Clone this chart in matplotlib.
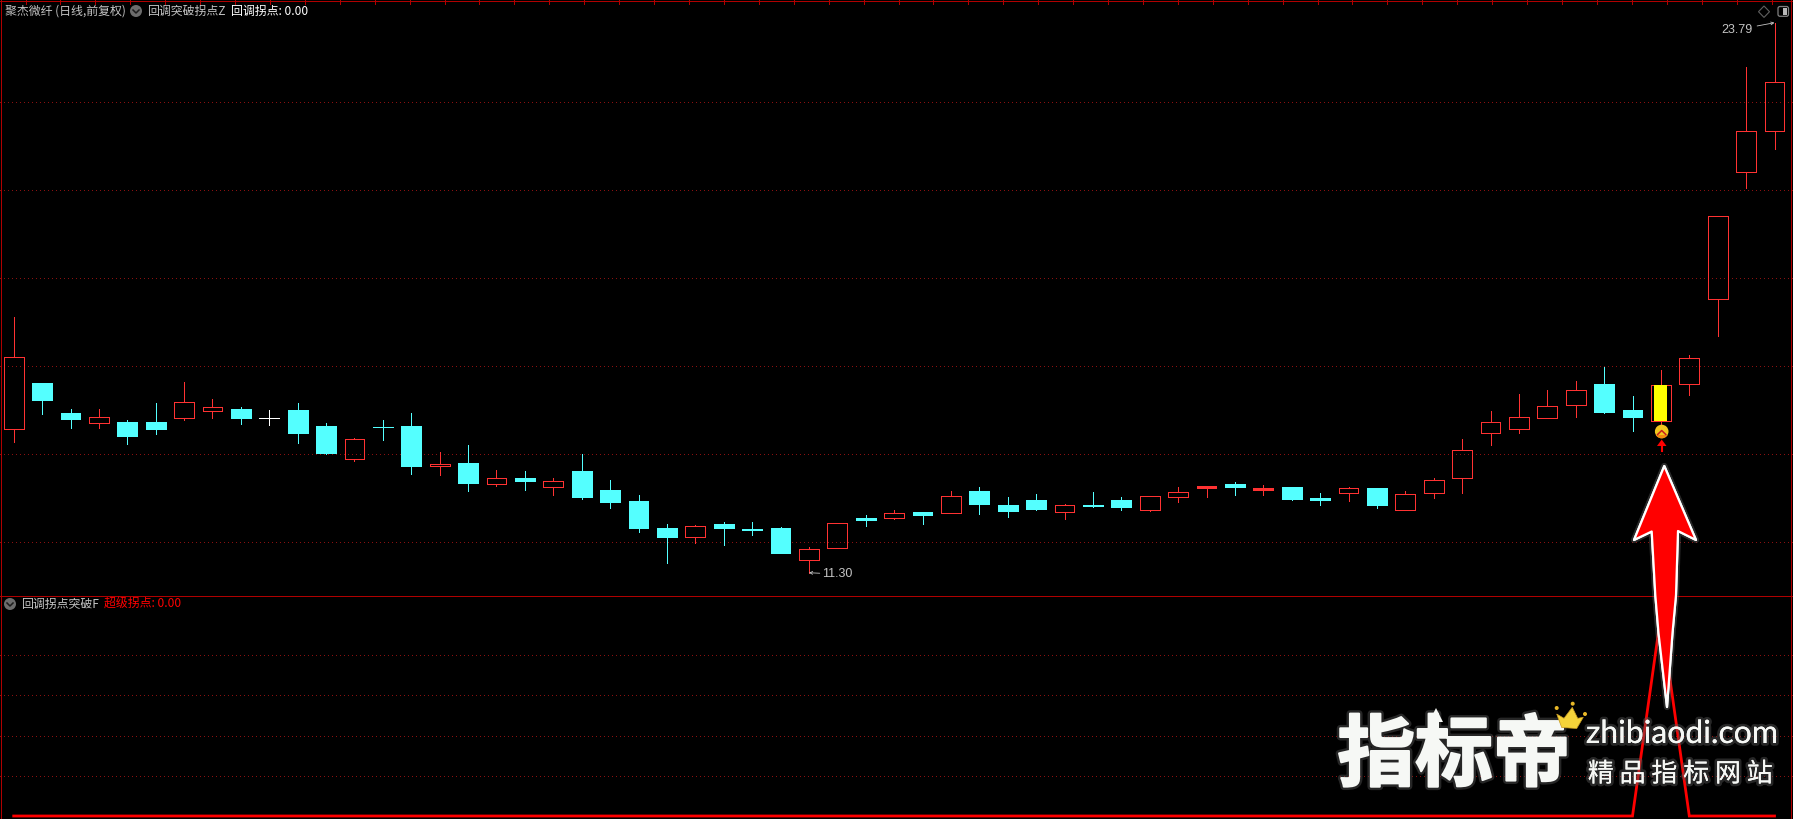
import numpy as np
import matplotlib
matplotlib.use("Agg")
import matplotlib.pyplot as plt
import matplotlib.patheffects as pe
from matplotlib.patches import Circle, Polygon, FancyBboxPatch, Rectangle

plt.rcParams['font.family'] = ['Noto Sans CJK SC', 'DejaVu Sans']
plt.rcParams['lines.scale_dashes'] = False

# 日线数据
opens = [14.57, 15.61, 14.93, 14.71, 14.72, 14.72, 14.82, 14.98, 15.02, 14.81,
         15.00, 14.63, 13.89, 14.61, 14.63, 13.73, 13.79, 13.32, 13.45, 13.25,
         13.61, 13.18, 12.93, 12.32, 12.10, 12.41, 12.29, 12.32, 11.60, 11.85,
         12.54, 12.55, 12.68, 12.66, 13.16, 12.84, 12.95, 12.69, 12.83, 12.95,
         12.73, 13.03, 13.23, 13.32, 13.18, 13.25, 13.00, 13.10, 13.22, 12.73,
         13.12, 13.44, 14.48, 14.57, 14.82, 15.12, 15.59, 15.00, 14.75, 15.59,
         17.51, 20.39, 21.32]
closes = [16.19, 15.22, 14.79, 14.83, 14.40, 14.56, 15.17, 15.06, 14.81, 14.81,
          14.47, 14.02, 14.33, 14.60, 13.72, 13.78, 13.34, 13.44, 13.38, 13.38,
          13.02, 12.91, 12.32, 12.11, 12.35, 12.32, 12.28, 11.75, 11.83, 12.44,
          12.50, 12.65, 12.61, 13.04, 12.86, 12.70, 12.75, 12.83, 12.82, 12.79,
          13.04, 13.13, 13.27, 13.25, 13.22, 12.97, 12.95, 13.22, 12.84, 13.08,
          13.40, 14.08, 14.72, 14.83, 15.08, 15.44, 14.95, 14.84, 15.56, 16.17,
          19.39, 21.32, 22.44]
highs = [17.11, 15.61, 15.02, 15.02, 14.77, 15.15, 15.63, 15.25, 15.06, 15.00,
         15.15, 14.70, 14.36, 14.77, 14.93, 14.04, 14.20, 13.63, 13.61, 13.45,
         14.00, 13.41, 13.07, 12.41, 12.38, 12.45, 12.45, 12.34, 11.88, 12.44,
         12.61, 12.72, 12.68, 13.16, 13.25, 13.02, 13.09, 12.86, 13.13, 13.02,
         13.04, 13.25, 13.27, 13.36, 13.29, 13.25, 13.11, 13.25, 13.22, 13.16,
         13.45, 14.34, 14.97, 15.36, 15.45, 15.65, 15.97, 15.31, 15.90, 16.24,
         19.39, 22.78, 23.79]
lows = [14.27, 14.90, 14.59, 14.59, 14.22, 14.45, 14.77, 14.81, 14.68, 14.65,
        14.25, 14.00, 13.84, 14.31, 13.54, 13.52, 13.16, 13.27, 13.18, 13.07,
        12.97, 12.77, 12.23, 11.52, 11.98, 11.93, 12.16, 11.75, 11.30, 11.85,
        12.36, 12.52, 12.41, 12.66, 12.63, 12.57, 12.72, 12.52, 12.79, 12.72,
        12.70, 12.91, 13.03, 13.07, 13.07, 12.95, 12.84, 12.93, 12.77, 12.73,
        13.00, 13.11, 14.20, 14.47, 14.82, 14.84, 14.93, 14.52, 14.68, 15.34,
        16.68, 20.04, 20.93]
signal_day = 58
low_day = 28
high_day = 62
solid_days = [42, 44]  # 实体太薄, 看起来是实心
price_grid = [12, 14, 16, 18, 20, 22]

# 超级拐点
super_pivot = [0] * 63
super_pivot[signal_day] = 1
pivot_grid = [0.2, 0.4, 0.6, 0.8]

RED = '#ff3232'
CYAN = '#54ffff'
BORDER = '#b00000'
GRID = '#8a1010'
GREY = '#c4c4c4'
PX = 0.72  # 1像素的线宽

W, H = 1793, 819
SPLIT = 595
n = len(opens)
days = np.arange(n)
xlim = (-13.7 / 28.4, (W - 13.7) / 28.4)

fig = plt.figure(figsize=(W / 100, H / 100), dpi=100, facecolor='black')

# 主图
ax = fig.add_axes([0, 1 - SPLIT / H, 1, SPLIT / H], facecolor='black')
ax.set_xlim(xlim)
ax.set_ylim(10.794, 24.306)
ax.axis('off')
for g in price_grid:
    ax.axhline(g, color=GRID, lw=PX, dashes=(0.72, 2.88), antialiased=False, zorder=1)

o = np.array(opens)
c = np.array(closes)
hi = np.array(highs)
lo = np.array(lows)
top = np.maximum(o, c)
bot = np.minimum(o, c)
up = c > o
down = c < o
flat = c == o

for mask, col in [(up, RED), (down, CYAN), (flat, 'white')]:
    ax.vlines(days[mask], top[mask], hi[mask], color=col, lw=PX, antialiased=False, zorder=2)
    ax.vlines(days[mask], lo[mask], bot[mask], color=col, lw=PX, antialiased=False, zorder=2)
ax.bar(days[up], (top - bot)[up], bottom=bot[up], width=0.7, facecolor='none', edgecolor=RED,
       linewidth=PX, antialiased=False, zorder=3)
ax.bar(solid_days, (top - bot)[solid_days], bottom=bot[solid_days], width=0.7, facecolor=RED, edgecolor=RED,
       linewidth=PX, antialiased=False, zorder=3)
ax.bar(days[down], (top - bot)[down], bottom=bot[down], width=0.7, facecolor=CYAN, edgecolor=CYAN,
       linewidth=PX, antialiased=False, zorder=3)
ax.hlines(top[flat], days[flat] - 0.35, days[flat] + 0.35, color='white', lw=PX, antialiased=False, zorder=3)

# 信号K线
ax.bar(signal_day, top[signal_day] - bot[signal_day], bottom=bot[signal_day], width=0.46,
       facecolor='#ffff00', edgecolor='none', zorder=4)

ax.annotate('%.2f' % lows[low_day], xy=(low_day, lows[low_day]), xytext=(9.8, -1), textcoords='offset points',
            color=GREY, fontsize=9, va='center', ha='left', family=['Liberation Sans', 'DejaVu Sans'],
            arrowprops=dict(arrowstyle='->', color=GREY, lw=0.6, mutation_scale=5, shrinkA=0, shrinkB=0))
ax.annotate('%.2f' % highs[high_day], xy=(high_day, highs[high_day]), xytext=(-15.5, -5), textcoords='offset points',
            color=GREY, fontsize=9, va='center', ha='right', family=['Liberation Sans', 'DejaVu Sans'],
            arrowprops=dict(arrowstyle='->', color=GREY, lw=0.6, mutation_scale=5, shrinkA=1, shrinkB=0))

# 副图
ax2 = fig.add_axes([0, 0, 1, (H - SPLIT) / H], facecolor='black')
ax2.set_xlim(xlim)
ax2.set_ylim(-3 / 201, 221 / 201)
ax2.axis('off')
for g in pivot_grid:
    ax2.axhline(g, color=GRID, lw=PX, dashes=(0.72, 2.88), antialiased=False, zorder=1)
ax2.plot(days, super_pivot, color='#ff0000', lw=2.0, solid_joinstyle='miter', clip_on=False, zorder=2)

# 边框, 标题, 水印
ov = fig.add_axes([0, 0, 1, 1], facecolor='none')
ov.set_xlim(0, W)
ov.set_ylim(H, 0)
ov.axis('off')

ov.hlines([1, SPLIT + 0.5], 0, W, color=BORDER, lw=PX, antialiased=False)
ov.vlines([1, 1790.5], 0, H, color=BORDER, lw=PX, antialiased=False)
ov.vlines(25.5 + 34.92 * np.arange(51), 0, 4, color=BORDER, lw=PX, antialiased=False)

FS = 8.6
ov.text(5, 11, '聚杰微纤 (日线,前复权)', color=GREY, fontsize=FS, va='center')
ov.text(147, 11, '回调突破拐点Z', color=GREY, fontsize=FS, va='center')
ov.text(231, 11, '回调拐点: 0.00', color='white', fontsize=FS, va='center')
ov.text(21, 604, '回调拐点突破F', color=GREY, fontsize=FS, va='center')
ov.text(104, 604, '超级拐点: 0.00', color='#ff0000', fontsize=FS, va='center')

for cx, cy in [(136, 11), (10, 604)]:
    ov.add_patch(Circle((cx, cy), 6, facecolor='#6c6c6c', edgecolor='none'))
    ov.plot([cx - 3, cx, cx + 3], [cy - 1, cy + 2, cy - 1], color='#1c1c1c', lw=1.1)

ov.add_patch(Polygon([(1764, 6), (1769.5, 11.7), (1764, 17.4), (1758.5, 11.7)], closed=True,
                     facecolor='none', edgecolor='#606060', lw=0.8))
ov.add_patch(FancyBboxPatch((1778, 6.5), 10.5, 9.8, boxstyle='round,pad=0,rounding_size=2',
                            facecolor='none', edgecolor='#808080', lw=0.9))
ov.add_patch(Rectangle((1783, 8), 4.3, 7, facecolor='#b8b8b8', edgecolor='none'))

# 金色拐点图标
disc = Circle((1661.7, 431.5), 6.8, facecolor='#f2c81e', edgecolor='none', zorder=5)
ov.add_patch(disc)
orange = Rectangle((1654, 434.5), 16, 5, facecolor='#f58a10', edgecolor='none', zorder=5)
ov.add_patch(orange)
orange.set_clip_path(disc)
ov.plot([1657.6, 1661.7, 1665.8], [434.5, 430.5, 434.5], color='#c81e1e', lw=1.1, zorder=6)
ov.add_patch(Polygon([(1661.7, 439.5), (1666.5, 446), (1657, 446)], closed=True, facecolor='#ff0000',
                     edgecolor='none', zorder=5))
ov.plot([1661.7, 1661.7], [445, 451], color='#ff0000', lw=1.5, zorder=5)

# 大红箭头
arrow_pts = [(1664.3, 466), (1696, 540), (1678, 531), (1676, 595), (1672.5, 633), (1667, 707), (1658.5, 633),
             (1655.3, 595), (1651.7, 531.5), (1634, 540)]
ov.add_patch(Polygon(arrow_pts, closed=True, facecolor='#ff0000', edgecolor='white', lw=1.6, joinstyle='round', zorder=7,
                     path_effects=[pe.withStroke(linewidth=4.5, foreground='#777777', alpha=0.35), pe.Normal()]))

# 水印
glow = [pe.withStroke(linewidth=4, foreground='#555555', alpha=0.45), pe.Normal()]
heavy = [pe.withStroke(linewidth=5, foreground='#555555', alpha=0.45),
         pe.withStroke(linewidth=1.5, foreground='#f6f8f5'), pe.Normal()]
ov.text(1454, 757, '指标帝', color='#f6f8f5', fontsize=56, fontweight='bold', ha='center', va='center', zorder=8,
        path_effects=heavy)
ov.add_patch(Polygon([(1436, 708), (1443, 722), (1439, 722), (1439, 732), (1433, 732), (1433, 722), (1429, 722)],
                     closed=True, facecolor='#f6f8f5', edgecolor='none', zorder=8))
ov.text(1682, 734, 'zhibiaodi.com', color='#f6f8f5', fontsize=23, ha='center', va='center', zorder=8,
        family=['Lato', 'DejaVu Sans'], path_effects=glow)
ov.text(1680.5, 774, '精 品 指 标 网 站', color='#f6f8f5', fontsize=18.7, ha='center', va='center', zorder=8,
        path_effects=glow)

# 皇冠
ov.add_patch(Polygon([(1561.7, 727.5), (1556.7, 714), (1564, 718.3), (1572.3, 707.3), (1577.7, 718.3), (1583.3, 717.3),
                      (1576.7, 728.5)], closed=True, facecolor='#f5d33a', edgecolor='#c89a20', lw=0.5, zorder=9))
for cx, cy in [(1556.7, 708), (1572.7, 703.7), (1585, 714)]:
    ov.add_patch(Circle((cx, cy), 2, facecolor='#e8b828', edgecolor='none', zorder=9))

fig.savefig('out.png', dpi=100, facecolor='black')
